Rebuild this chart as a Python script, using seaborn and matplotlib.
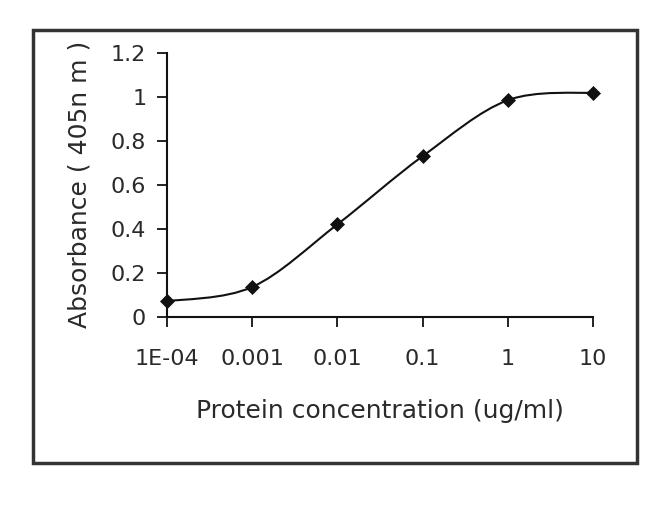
import numpy as np
import seaborn as sns
import matplotlib.pyplot as plt
from matplotlib.path import Path
from matplotlib.patches import PathPatch, Rectangle

# protein concentration (ug/ml) and absorbance at 405 nm
concentration = [0.0001, 0.001, 0.01, 0.1, 1, 10]
absorbance = [0.07, 0.135, 0.42, 0.73, 0.985, 1.02]
tick_labels = ["1E-04", "0.001", "0.01", "0.1", "1", "10"]
y_ticks = [0, 0.2, 0.4, 0.6, 0.8, 1, 1.2]
y_tick_labels = ["0", "0.2", "0.4", "0.6", "0.8", "1", "1.2"]

sns.set_style("white")
plt.rcParams["font.family"] = ["DejaVu Sans"]

fig = plt.figure(figsize=(6.5, 5.05), dpi=100)
ax = fig.add_axes([0.257, 0.373, 0.655, 0.522])

# smoothed line like a spreadsheet chart: Catmull-Rom segments in log-x space
lx = np.log10(concentration)
ly = np.array(absorbance)
verts = [(lx[0], ly[0])]
codes = [Path.MOVETO]
n = len(lx)
for i in range(n - 1):
    p0 = (lx[max(i - 1, 0)], ly[max(i - 1, 0)])
    p1 = (lx[i], ly[i])
    p2 = (lx[i + 1], ly[i + 1])
    p3 = (lx[min(i + 2, n - 1)], ly[min(i + 2, n - 1)])
    c1 = (p1[0] + (p2[0] - p0[0]) / 6, p1[1] + (p2[1] - p0[1]) / 6)
    c2 = (p2[0] - (p3[0] - p1[0]) / 6, p2[1] - (p3[1] - p1[1]) / 6)
    verts += [c1, c2, p2]
    codes += [Path.CURVE4] * 3
verts = [(10 ** vx, vy) for vx, vy in verts]
ax.add_patch(PathPatch(Path(verts, codes), facecolor="none",
                       edgecolor="#111111", lw=1.5, zorder=2))

sns.scatterplot(x=concentration, y=absorbance, marker="D", s=50,
                color="#111111", edgecolor="#111111", ax=ax, zorder=3,
                clip_on=False)

ax.set_xscale("log")
ax.set_xlim(0.0001, 10)
ax.set_ylim(0, 1.2)
ax.set_xticks(concentration)
ax.set_xticklabels(tick_labels)
ax.minorticks_off()
ax.set_yticks(y_ticks)
ax.set_yticklabels(y_tick_labels)
ax.tick_params(axis="both", bottom=True, left=True, direction="out",
               length=7, width=1.3, color="#111111", labelsize=16,
               labelcolor="#2a2a2a")
ax.tick_params(axis="x", pad=16)
ax.tick_params(axis="y", pad=8)

for side in ["top", "right"]:
    ax.spines[side].set_visible(False)
for side in ["left", "bottom"]:
    ax.spines[side].set_color("#111111")
    ax.spines[side].set_linewidth(1.5)

ax.set_xlabel("Protein concentration (ug/ml)", fontsize=18, color="#2a2a2a",
              labelpad=22)
ax.set_ylabel("Absorbance ( 405n m )", fontsize=18, color="#2a2a2a",
              labelpad=14)

# outer frame around the whole chart
fig.patches.append(Rectangle((0.051, 0.083), 0.929, 0.857,
                             transform=fig.transFigure, fill=False,
                             edgecolor="#333333", lw=2.5))

fig.savefig("out.png", dpi=100)
